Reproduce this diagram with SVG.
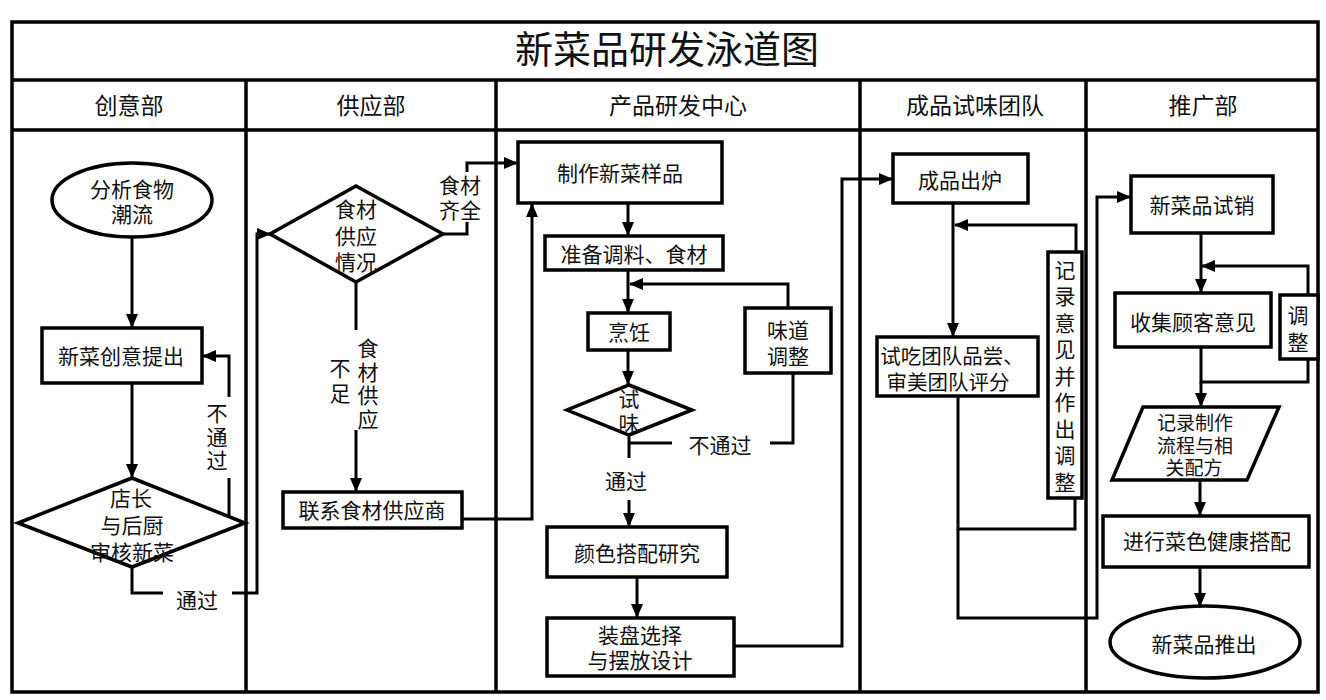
<svg xmlns="http://www.w3.org/2000/svg" width="1326" height="700" viewBox="0 0 1326 700">
<defs>
<marker id="ah" markerUnits="userSpaceOnUse" markerWidth="14" markerHeight="14" viewBox="0 0 14 14" refX="13" refY="7" orient="auto">
<path d="M0,1 L14,7 L0,13 Z" fill="#000"/>
</marker>
<style>
text{font-family:"Liberation Sans","Noto Sans CJK SC",sans-serif;fill:#111;text-anchor:middle;dominant-baseline:central;font-size:21px}
.ttl{font-size:38px}
.hdr{font-size:23px}
.sm{font-size:19px}
.box{fill:#fff;stroke:#000;stroke-width:3.5}
.frame{fill:none;stroke:#000;stroke-width:3.5}
.c{fill:none;stroke:#000;stroke-width:3}
.a{marker-end:url(#ah)}
</style>
</defs>
<rect width="1326" height="700" fill="#fff"/>
<g id="frame">
<rect class="frame" x="12" y="22" width="1306" height="670"/>
<line class="frame" x1="12" y1="80" x2="1318" y2="80"/>
<line class="frame" x1="12" y1="130" x2="1318" y2="130"/>
<line class="frame" x1="246" y1="80" x2="246" y2="692"/>
<line class="frame" x1="496" y1="80" x2="496" y2="692"/>
<line class="frame" x1="860" y1="80" x2="860" y2="692"/>
<line class="frame" x1="1086" y1="80" x2="1086" y2="692"/>
<text class="ttl" x="667" y="50">新菜品研发泳道图</text>
<text class="hdr" x="129" y="106">创意部</text>
<text class="hdr" x="371" y="106">供应部</text>
<text class="hdr" x="678" y="106">产品研发中心</text>
<text class="hdr" x="975" y="106">成品试味团队</text>
<text class="hdr" x="1203" y="106">推广部</text>
</g>
<g id="connectors">
<path class="c a" d="M132 237 V327"/>
<path class="c a" d="M132 383 V477"/>
<path class="c" d="M229 517 V478"/>
<path class="c a" d="M229 397 V356 H203"/>
<text x="217" y="413"><tspan x="217" y="413">不</tspan><tspan x="217" y="436.5">通</tspan><tspan x="217" y="460">过</tspan></text>
<path class="c" d="M132 567 V593 H163"/>
<text x="197" y="600">通过</text>
<path class="c a" d="M232 593 H257 V234 H270"/>
<path class="c" d="M356 282 V330"/>
<text x="368" y="348"><tspan x="368" y="348">食</tspan><tspan x="368" y="371.5">材</tspan><tspan x="368" y="395">供</tspan><tspan x="368" y="418.5">应</tspan><tspan x="340" y="368">不</tspan><tspan x="340" y="393">足</tspan></text>
<path class="c a" d="M356 430 V491"/>
<path class="c" d="M443 234 H467 V222"/>
<path class="c a" d="M467 172 V163 H517"/>
<text x="460" y="185"><tspan x="460" y="185">食材</tspan><tspan x="460" y="210">齐全</tspan></text>
<path class="c a" d="M462 519 H532 V204"/>
<path class="c a" d="M628 203 V235"/>
<path class="c a" d="M628 270 V312"/>
<path class="c a" d="M788 308 V284 H630"/>
<path class="c a" d="M628 350 V384"/>
<path class="c" d="M629 435 V458"/>
<text x="626" y="481">通过</text>
<path class="c a" d="M629 500 V526"/>
<path class="c" d="M629 443 H672"/>
<text x="720" y="445">不通过</text>
<path class="c" d="M770 443 H793 V373"/>
<path class="c a" d="M637 577 V617"/>
<path class="c a" d="M734 646 H842 V179 H892"/>
<path class="c a" d="M953 203 V336"/>
<path class="c a" d="M1076 252 V225 H955"/>
<path class="c" d="M958 396 V529 H1075 V498"/>
<path class="c a" d="M958 529 V618 H1097 V197 H1130"/>
<path class="c a" d="M1201 233 V292"/>
<path class="c a" d="M1308 295 V266 H1202"/>
<path class="c" d="M1201 347 V382 H1308 V359"/>
<path class="c a" d="M1201 382 V406"/>
<path class="c a" d="M1200 480 V515"/>
<path class="c a" d="M1200 567 V606"/>
</g>
<g id="n_analyze">
<ellipse class="box" cx="132" cy="200" rx="80" ry="37"/>
<text x="132" y="189"><tspan x="132" y="189">分析食物</tspan><tspan x="132" y="214">潮流</tspan></text>
</g>
<g id="n_idea">
<rect class="box" x="42" y="328" width="160" height="55"/>
<text x="121" y="356">新菜创意提出</text>
</g>
<g id="n_review">
<polygon class="box" points="132,478 245,523 132,567 18,523"/>
<text x="131" y="498"><tspan x="131" y="498">店长</tspan><tspan x="132" y="525">与后厨</tspan><tspan x="132" y="552">审核新菜</tspan></text>
</g>
<g id="n_supply">
<polygon class="box" points="356,186 443,234 356,282 270,234"/>
<text x="356" y="209"><tspan x="356" y="209">食材</tspan><tspan x="356" y="236">供应</tspan><tspan x="356" y="262">情况</tspan></text>
</g>
<g id="n_contact">
<rect class="box" x="283" y="492" width="179" height="36"/>
<text x="372" y="510">联系食材供应商</text>
</g>
<g id="n_sample">
<rect class="box" x="518" y="142" width="204" height="61"/>
<text x="620" y="173">制作新菜样品</text>
</g>
<g id="n_prepare">
<rect class="box" x="545" y="236" width="178" height="34"/>
<text x="634" y="254">准备调料、食材</text>
</g>
<g id="n_cook">
<rect class="box" x="588" y="313" width="82" height="37"/>
<text x="629" y="332">烹饪</text>
</g>
<g id="n_adjust_taste">
<rect class="box" x="745" y="308" width="86" height="65"/>
<text x="788" y="330"><tspan x="788" y="330">味道</tspan><tspan x="788" y="356">调整</tspan></text>
</g>
<g id="n_taste">
<polygon class="box" points="629,385 692,410 629,435 567,410"/>
<text x="629" y="399"><tspan x="629" y="399">试</tspan><tspan x="629" y="423">味</tspan></text>
</g>
<g id="n_color">
<rect class="box" x="547" y="527" width="180" height="50"/>
<text x="637" y="553">颜色搭配研究</text>
</g>
<g id="n_plate">
<rect class="box" x="547" y="618" width="187" height="58"/>
<text x="640" y="635"><tspan x="640" y="635">装盘选择</tspan><tspan x="640" y="660">与摆放设计</tspan></text>
</g>
<g id="n_out">
<rect class="box" x="893" y="154" width="135" height="49"/>
<text x="960" y="180">成品出炉</text>
</g>
<g id="n_eval">
<rect class="box" x="877" y="337" width="161" height="59"/>
<text x="952" y="356" style="font-size:20.5px"><tspan x="952" y="356">试吃团队品尝、</tspan><tspan x="948" y="382">审美团队评分</tspan></text>
</g>
<g id="n_record">
<rect class="box" x="1048" y="252" width="34" height="246"/>
<text x="1065" y="270"><tspan x="1065" y="270">记</tspan><tspan x="1065" y="296">录</tspan><tspan x="1065" y="323">意</tspan><tspan x="1065" y="349">见</tspan><tspan x="1065" y="376">并</tspan><tspan x="1065" y="402">作</tspan><tspan x="1065" y="429">出</tspan><tspan x="1065" y="455">调</tspan><tspan x="1065" y="482">整</tspan></text>
</g>
<g id="n_trial">
<rect class="box" x="1131" y="176" width="142" height="57"/>
<text x="1202" y="205">新菜品试销</text>
</g>
<g id="n_collect">
<rect class="box" x="1115" y="293" width="156" height="54"/>
<text x="1193" y="322">收集顾客意见</text>
</g>
<g id="n_adjust">
<rect class="box" x="1280" y="295" width="38" height="64"/>
<text x="1298" y="315"><tspan x="1298" y="315">调</tspan><tspan x="1298" y="342">整</tspan></text>
</g>
<g id="n_recipe">
<polygon class="box" points="1143,407 1279,407 1247,480 1112,480"/>
<text class="sm" x="1195" y="423"><tspan x="1195" y="423">记录制作</tspan><tspan x="1195" y="446">流程与相</tspan><tspan x="1194" y="468">关配方</tspan></text>
</g>
<g id="n_health">
<rect class="box" x="1103" y="516" width="206" height="51"/>
<text x="1207" y="541">进行菜色健康搭配</text>
</g>
<g id="n_launch">
<ellipse class="box" cx="1205" cy="642" rx="95" ry="36"/>
<text x="1204" y="644">新菜品推出</text>
</g>
</svg>
